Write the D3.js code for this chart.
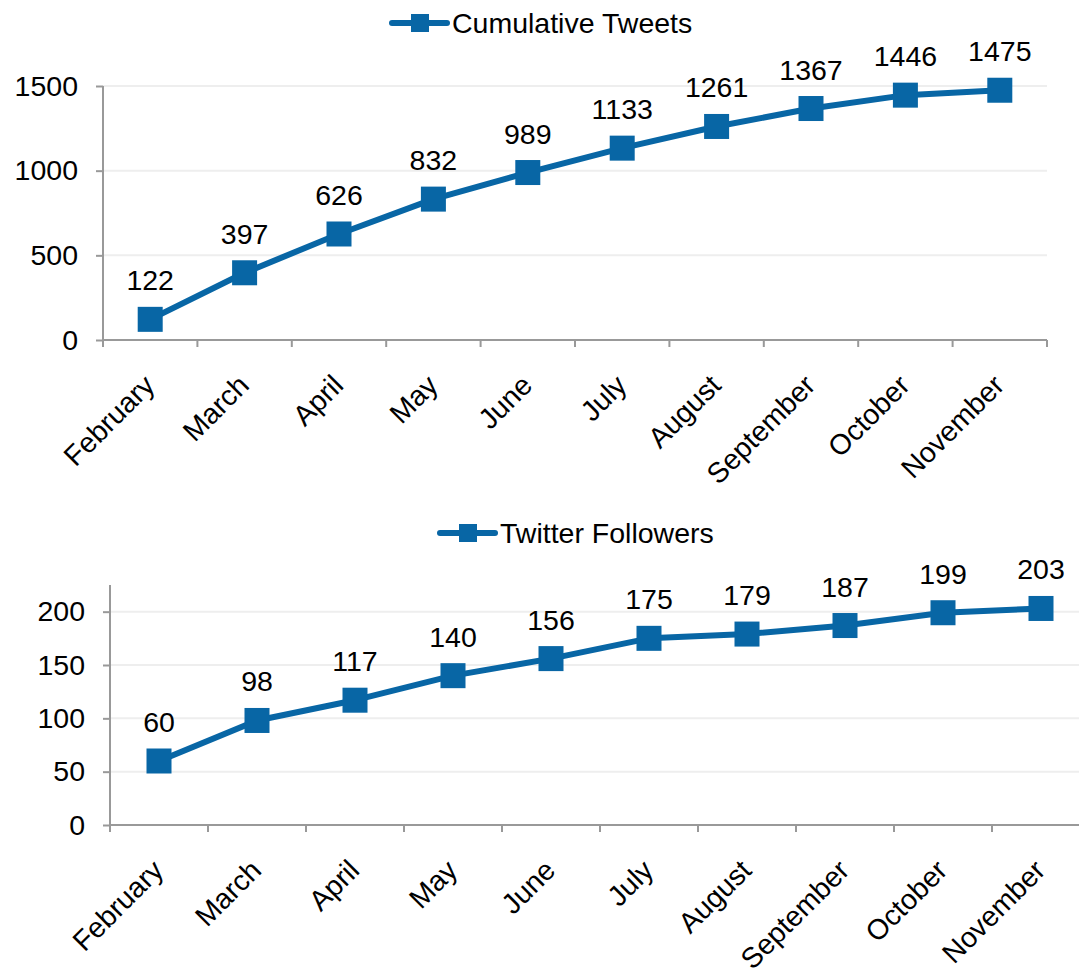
<!DOCTYPE html>
<html><head><meta charset="utf-8">
<script src="https://cdn.jsdelivr.net/npm/d3@7"></script>
<style>
body{margin:0;background:#fff;}
svg{display:block;font-family:"Liberation Sans",Arial,Helvetica,sans-serif;}
</style></head>
<body>
<svg id="chart" width="1079" height="971"></svg>
<script>
const months = ["February","March","April","May","June","July","August","September","October","November"];
const tweets = [122,397,626,832,989,1133,1261,1367,1446,1475];
const followers = [60,98,117,140,156,175,179,187,199,203];
const tweetTicks = [0,500,1000,1500];
const followerTicks = [0,50,100,150,200];

const color = "#0866a5";
const axisColor = "#999";
const gridColor = "#eeeeee";
const fs = 28.5;
const svg = d3.select("#chart");

function panel(cfg){
  const g = svg.append("g");
  const x = d3.scaleBand().domain(months).range([cfg.x0, cfg.x1]);
  const y = d3.scaleLinear().domain(cfg.yDomain).range([cfg.yBottom, cfg.yTop]);

  // gridlines
  g.selectAll(".grid").data(cfg.ticks.filter(t=>t>0)).enter().append("line")
    .attr("x1", cfg.x0).attr("x2", cfg.x1)
    .attr("y1", d=>y(d)).attr("y2", d=>y(d))
    .attr("stroke", gridColor).attr("stroke-width", 2);

  // y axis
  const ya = g.append("g").attr("transform", `translate(${cfg.x0},0)`)
    .call(d3.axisLeft(y).tickValues(cfg.ticks).tickSize(7).tickPadding(18).tickFormat(d3.format("d")));
  ya.select(".domain").remove();
  g.append("line").attr("x1", cfg.x0).attr("x2", cfg.x0).attr("y1", cfg.yTop).attr("y2", cfg.yBottom)
    .attr("stroke", axisColor).attr("stroke-width", 2);
  ya.selectAll(".tick line").attr("stroke", axisColor).attr("stroke-width", 2);
  ya.selectAll(".tick text").attr("font-size", fs).attr("fill", "#000").attr("font-family", "Liberation Sans, Arial, sans-serif");

  // x axis
  const boundaries = months.map(m => x(m)).concat([cfg.x1]);
  g.append("line").attr("x1", cfg.x0).attr("x2", cfg.x1).attr("y1", cfg.yBottom).attr("y2", cfg.yBottom)
    .attr("stroke", axisColor).attr("stroke-width", 2);
  g.selectAll(".xt").data(boundaries).enter().append("line")
    .attr("x1", d=>d).attr("x2", d=>d).attr("y1", cfg.yBottom).attr("y2", cfg.yBottom+7)
    .attr("stroke", axisColor).attr("stroke-width", 2);
  g.selectAll(".xl").data(months).enter().append("text")
    .attr("transform", d => `translate(${x(d)+x.bandwidth()/2-1},${cfg.yBottom+40}) rotate(-45)`)
    .attr("text-anchor", "end").attr("dy", "0.35em")
    .attr("font-size", fs).text(d=>d);

  // line
  const cx = d => x(d) + x.bandwidth()/2;
  const line = d3.line().x((d,i)=>cx(months[i])).y(d=>y(d));
  g.append("path").datum(cfg.values).attr("d", line)
    .attr("fill","none").attr("stroke", color).attr("stroke-width", 6).attr("stroke-linejoin","round");
  const ms = 25;
  g.selectAll(".pt").data(cfg.values).enter().append("rect")
    .attr("x", (d,i)=>cx(months[i])-ms/2).attr("y", d=>y(d)-ms/2)
    .attr("width", ms).attr("height", ms).attr("fill", color);
  g.selectAll(".lbl").data(cfg.values).enter().append("text")
    .attr("x", (d,i)=>cx(months[i])).attr("y", d=>y(d)-29)
    .attr("text-anchor","middle").attr("font-size", fs).text(d=>d);

  // legend
  const lg = g.append("g").attr("transform", `translate(${cfg.legendX},${cfg.legendY})`);
  lg.append("line").attr("x1",0).attr("x2",55).attr("y1",0).attr("y2",0)
    .attr("stroke", color).attr("stroke-width", 6).attr("stroke-linecap","round");
  lg.append("rect").attr("x", 19).attr("y", -9).attr("width", 18).attr("height", 18).attr("fill", color);
  lg.append("text").attr("x", 60).attr("y", 0).attr("dy","0.35em").attr("font-size", fs).text(cfg.name);
}

panel({name:"Cumulative Tweets", values:tweets, ticks:tweetTicks, yDomain:[0,1500],
  x0:103, x1:1047, yTop:86, yBottom:340, legendX:392, legendY:23});
panel({name:"Twitter Followers", values:followers, ticks:followerTicks, yDomain:[0,225],
  x0:110, x1:1090, yTop:585, yBottom:825, legendX:440, legendY:533});
</script>
</body></html>
